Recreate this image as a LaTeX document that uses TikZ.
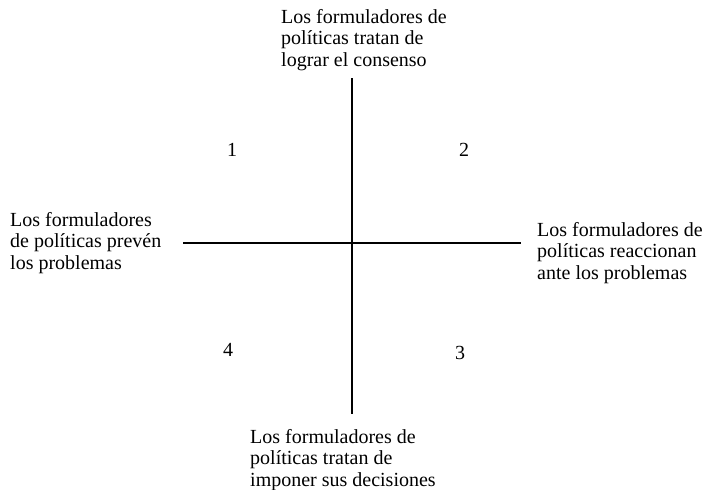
\documentclass[tikz,border=0pt]{standalone}
\usepackage{fontspec}
\setmainfont{Liberation Serif}

\begin{document}
\begin{tikzpicture}[x=1pt, y=-1pt,
  lbl/.style={align=left, inner sep=0pt, anchor=base west, font=\fontsize{20}{21.5}\selectfont},
  num/.style={inner sep=0pt, font=\fontsize{20}{21.5}\selectfont}]
\def \axw {1.8pt}
\useasboundingbox (0,0) rectangle (707,490);

\coordinate (ax-top) at (352,78);
\coordinate (ax-bot) at (352,414);
\coordinate (ax-left) at (183,243);
\coordinate (ax-right) at (521,243);

% anchors sit on the last line of each label
\node[lbl] at (281,66) (consenso) {Los formuladores de\\pol\'iticas tratan de\\lograr el consenso};
\node[lbl] at (250,486) (imponer) {Los formuladores de\\pol\'iticas tratan de\\imponer sus decisiones};
\node[lbl] at (10,269) (preven) {Los formuladores\\de pol\'iticas prev\'en\\los problemas};
\node[lbl] at (537,279) (reaccionan) {Los formuladores de\\pol\'iticas reaccionan\\ante los problemas};

\node[num] at (232,150) (q1) {1};
\node[num] at (464,150) (q2) {2};
\node[num] at (460,353) (q3) {3};
\node[num] at (228,350) (q4) {4};

\draw[line width=\axw] (ax-top) -- (ax-bot);
\draw[line width=\axw] (ax-left) -- (ax-right);

\end{tikzpicture}
\end{document}
